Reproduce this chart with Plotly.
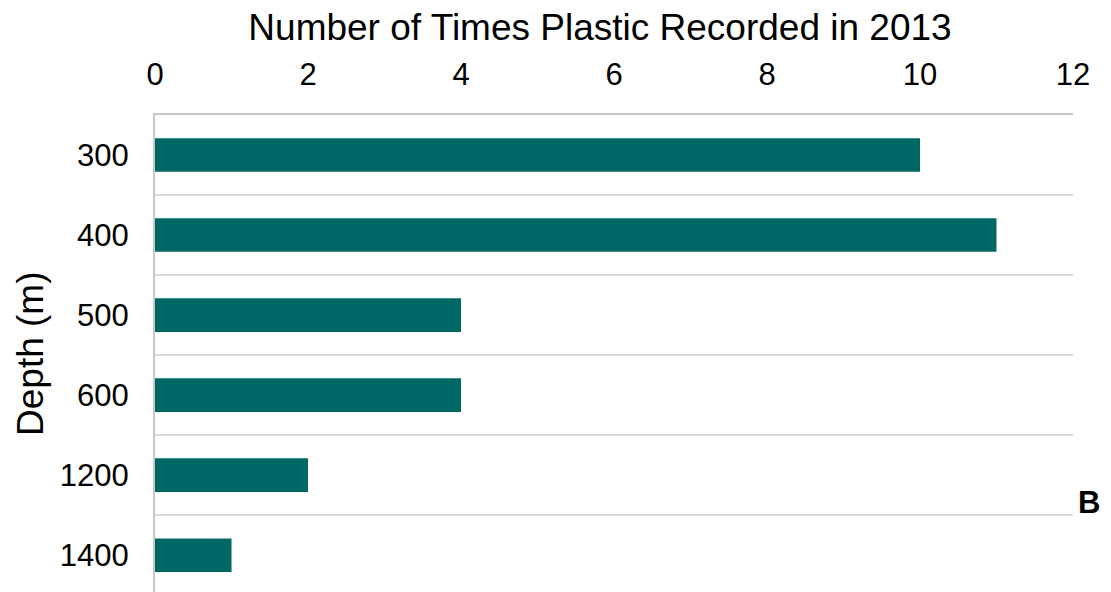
import plotly.graph_objects as go

# Plastic sightings by depth, 2013
depths = ["300", "400", "500", "600", "1200", "1400"]
counts = [10, 11, 4, 4, 2, 1]
x_ticks = [0, 2, 4, 6, 8, 10, 12]

W, H = 1111, 592
L, R, T, B = 155, 38, 115, 0
plot_w = W - L - R
plot_h = H - T - B
FONT = "Liberation Sans, Arial, sans-serif"

fig = go.Figure(
    go.Bar(
        x=counts,
        y=depths,
        orientation="h",
        marker=dict(color="#006864", line=dict(width=0)),
        width=0.42,
        hoverinfo="x+y",
    )
)

fig.update_layout(
    width=W,
    height=H,
    margin=dict(l=L, r=R, t=T, b=B),
    paper_bgcolor="white",
    plot_bgcolor="white",
    showlegend=False,
    font=dict(family=FONT, color="#000000"),
    title=dict(
        text="Number of Times Plastic Recorded in 2013",
        font=dict(size=37, family=FONT, color="#000000"),
        xref="container",
        yref="container",
        x=600 / W,
        xanchor="center",
        y=1 - 27 / H,
        yanchor="middle",
    ),
    xaxis=dict(
        side="top",
        range=[0, 12],
        tickvals=x_ticks,
        ticktext=[str(v) for v in x_ticks],
        showgrid=False,
        zeroline=False,
        showline=True,
        linecolor="#c8c8c8",
        linewidth=2,
        ticks="",
        ticklabelstandoff=16,
        tickfont=dict(size=31, family=FONT, color="#000000"),
    ),
    yaxis=dict(
        type="category",
        categoryorder="array",
        categoryarray=depths,
        range=[5.46, -0.5],
        tickson="boundaries",
        showgrid=True,
        gridcolor="#d9d9d9",
        gridwidth=2,
        zeroline=False,
        showline=True,
        linecolor="#c8c8c8",
        linewidth=2,
        ticks="",
        ticklabelstandoff=18,
        tickfont=dict(size=31, family=FONT, color="#000000"),
    ),
    annotations=[
        dict(
            text="Depth (m)",
            textangle=-90,
            xref="paper",
            yref="paper",
            x=(30 - L) / plot_w,
            y=(H - 354 - B) / plot_h,
            xanchor="center",
            yanchor="middle",
            showarrow=False,
            font=dict(size=37, family=FONT, color="#000000"),
        ),
        dict(
            text="<b>B</b>",
            xref="paper",
            yref="paper",
            x=(1089 - L) / plot_w,
            y=(H - 502 - B) / plot_h,
            xanchor="center",
            yanchor="middle",
            showarrow=False,
            font=dict(size=31, family=FONT, color="#000000"),
        ),
    ],
)

fig.write_html("out.html")
